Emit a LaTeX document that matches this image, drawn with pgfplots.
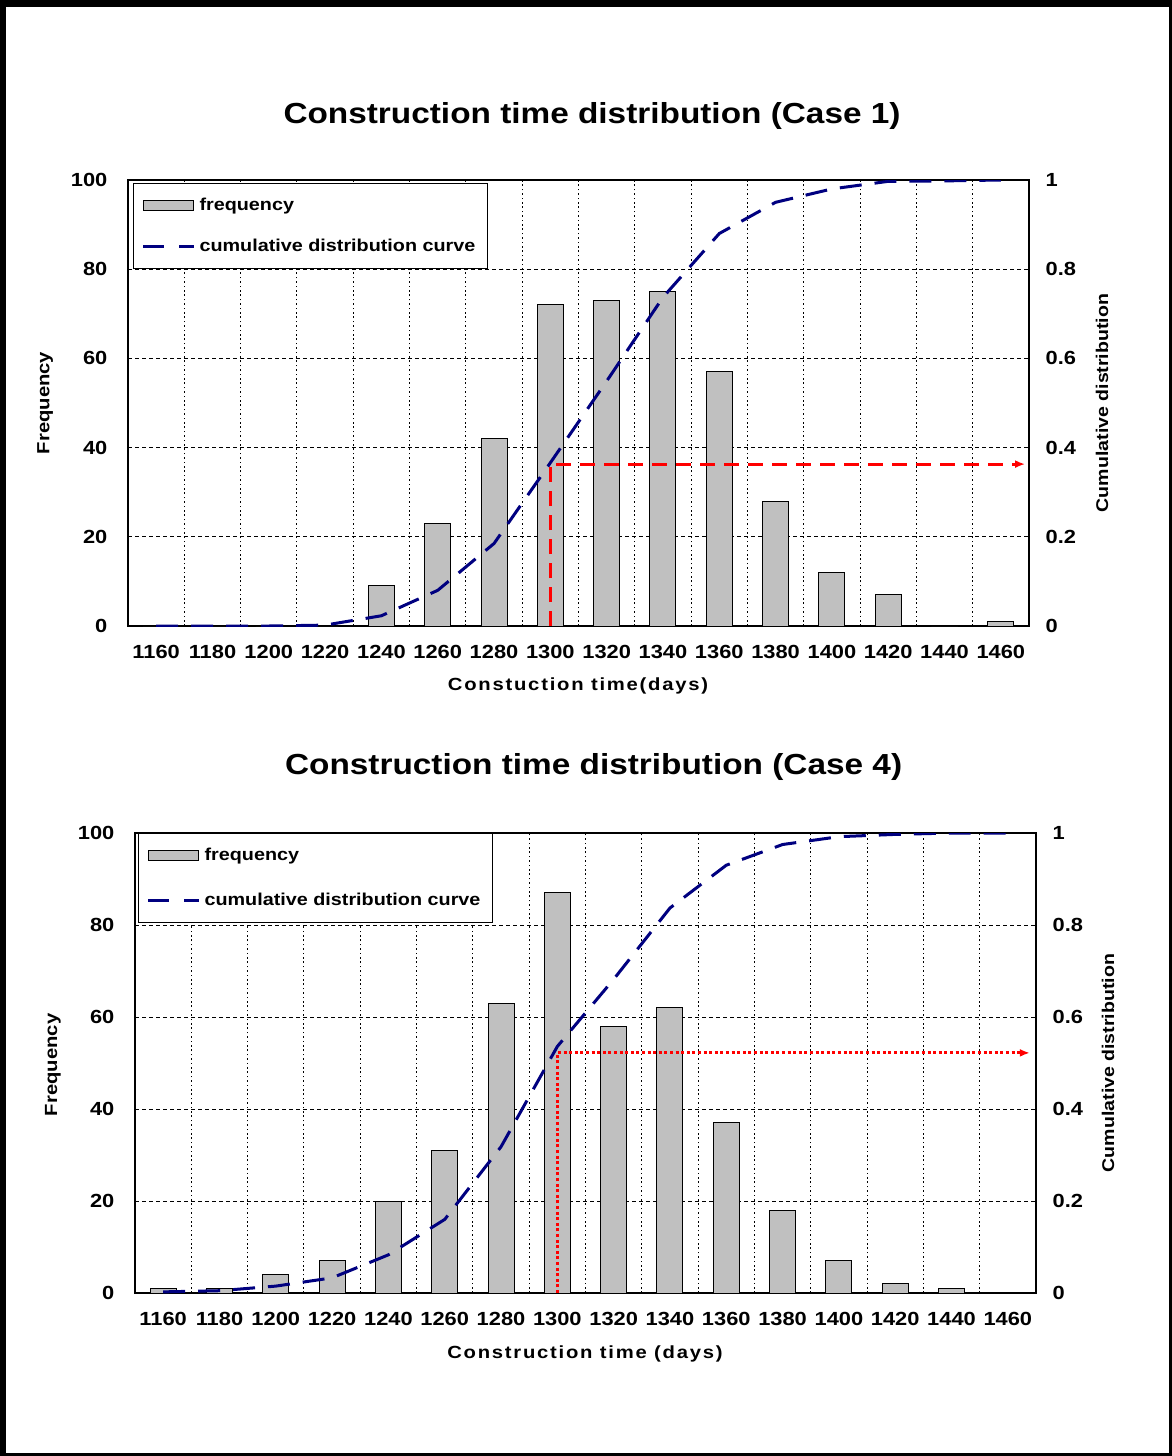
\documentclass[border=0pt]{standalone}
\usepackage{pgfplots}
\pgfplotsset{compat=1.18}
\usetikzlibrary{arrows.meta}
\usepackage{fontspec}
\setmainfont{Liberation Sans}[FakeStretch=1.15]
\newfontfamily\lblfont{Liberation Sans}[FakeStretch=1.15, LetterSpace=10]
\definecolor{barGray}{RGB}{192,192,192}
\definecolor{navyc}{RGB}{0,0,128}

\pgfplotstableread{
idx freq
0 0
1 0
2 0
3 0
4 9
5 23
6 42
7 72
8 73
9 75
10 57
11 28
12 12
13 7
14 0
15 1
}\freqA
\pgfplotstableread{
idx cum
0 0
1 0
2 0
3 0.002
4 0.023
5 0.080
6 0.185
7 0.366
8 0.549
9 0.737
10 0.880
11 0.950
12 0.980
13 0.997
14 0.998
15 1.0
}\cumA
\pgfplotstableread{
idx freq
0 1
1 1
2 4
3 7
4 20
5 31
6 63
7 87
8 58
9 62
10 37
11 18
12 7
13 2
14 1
15 0
}\freqB
\pgfplotstableread{
idx cum
0 0.0025
1 0.005
2 0.015
3 0.033
4 0.083
5 0.160
6 0.318
7 0.536
8 0.682
9 0.837
10 0.930
11 0.975
12 0.992
13 0.997
14 1.0
15 1.0
}\cumB

\pgfplotsset{
  leftax/.style={
    scale only axis, anchor=south west,
    xmin=-0.5, xmax=15.5, ymin=0, ymax=100,
    xtick={0,...,15},
    xticklabels={1160,1180,1200,1220,1240,1260,1280,1300,1320,1340,1360,1380,1400,1420,1440,1460},
    minor xtick={0.5,1.5,2.5,3.5,4.5,5.5,6.5,7.5,8.5,9.5,10.5,11.5,12.5,13.5,14.5},
    ytick={0,20,40,60,80,100},
    xmajorgrids=false, xminorgrids=true, ymajorgrids=true,
    minor grid style={black, line width=0.5pt, dash pattern=on 0.8pt off 1.4pt},
    major grid style={black, line width=0.5pt, dash pattern=on 2.2pt off 1.3pt},
    axis line style={black, line width=0.7pt},
    major tick length=0pt, minor tick length=0pt,
    tick label style={font=\fontsize{9.5}{10}\selectfont\bfseries},
    /pgf/number format/assume math mode=true,
    xticklabel style={yshift=-6pt},
    yticklabel style={xshift=-6.8pt},
    ybar, bar width=13pt,
    label style={font=\fontsize{8.8}{10}\selectfont\bfseries},
    title style={font=\fontsize{14.5}{16}\selectfont\bfseries, anchor=center},
  },
  rightax/.style={
    scale only axis, anchor=south west,
    xmin=-0.5, xmax=15.5, ymin=0, ymax=1,
    axis x line=none, axis y line*=right,
    ytick={0,0.2,0.4,0.6,0.8,1},
    axis line style={black, line width=0.7pt},
    major tick length=0pt,
    tick label style={font=\fontsize{9.5}{10}\selectfont\bfseries},
    /pgf/number format/assume math mode=true,
    yticklabel style={xshift=4.8pt},
    label style={font=\fontsize{8.5}{10}\selectfont\bfseries},
    legend cell align=left,
  },
  cumline/.style={navyc, line width=1.5pt, dash pattern=on 11pt off 6.5pt,
    legend image code/.code={\draw[##1, dash pattern=on 10.5pt off 7.5pt] (0pt,0pt) -- (25.5pt,0pt);}},
}

\begin{document}
\begin{tikzpicture}
\useasboundingbox (0pt,0pt) rectangle (586pt,-728pt);
\fill[white] (0pt,0pt) rectangle (586pt,-728pt);

% ---------------- Case 1 ----------------
\begin{axis}[leftax,
  at={(64pt,-313pt)}, width=450.5pt, height=223pt,
  title={Construction time distribution (Case 1)},
  title style={at={(axis description cs:0.515,1.116)}},
  xlabel={\lblfont Constuction time(days)},
  xlabel style={at={(axis description cs:0.4995,-0.135)}, anchor=center},
  ylabel={Frequency},
  ylabel style={at={(axis description cs:-0.092,0.5)}, anchor=center},
]
\addplot[fill=barGray, draw=black, line width=0.5pt] table[x=idx, y=freq] {\freqA};
\end{axis}
\begin{axis}[rightax,
  at={(64pt,-313pt)}, width=450.5pt, height=223pt,
  ylabel={Cumulative distribution},
  ylabel style={at={(axis description cs:1.081,0.5)}, anchor=center},
  legend style={at={(axis description cs:0.0055,0.993)}, anchor=north west,
    draw=black, line width=0.6pt, fill=white,
    font=\fontsize{8.6}{9}\selectfont\bfseries,
    inner xsep=4pt, inner ysep=5pt, row sep=9pt},
]
\addlegendimage{legend image code/.code={\draw[fill=barGray, draw=black, line width=0.5pt] (0pt,-2.5pt) rectangle (25pt,2.5pt);}}
\addlegendentry{frequency}
\addplot[cumline] table[x=idx, y=cum] {\cumA};
\addlegendentry{cumulative distribution curve}
\addplot[forget plot, red, line width=1.5pt, dash pattern=on 7.5pt off 4.5pt, -{Latex[length=5pt, width=4pt]}]
  coordinates {(7,0) (7,0.363) (15.43,0.363)};
\end{axis}

% ---------------- Case 4 ----------------
\begin{axis}[leftax,
  at={(67.5pt,-646.5pt)}, width=450.5pt, height=230pt,
  title={Construction time distribution (Case 4)},
  title style={at={(axis description cs:0.509,1.117)}},
  xlabel={\lblfont Construction time (days)},
  xlabel style={at={(axis description cs:0.4994,-0.132)}, anchor=center},
  ylabel={Frequency},
  ylabel style={at={(axis description cs:-0.091,0.496)}, anchor=center},
]
\addplot[fill=barGray, draw=black, line width=0.5pt] table[x=idx, y=freq] {\freqB};
\end{axis}
\begin{axis}[rightax,
  at={(67.5pt,-646.5pt)}, width=450.5pt, height=230pt,
  ylabel={Cumulative distribution},
  ylabel style={at={(axis description cs:1.080,0.5)}, anchor=center},
  legend style={at={(axis description cs:0.0033,1.0)}, anchor=north west,
    draw=black, line width=0.6pt, fill=white,
    font=\fontsize{8.6}{9}\selectfont\bfseries,
    inner xsep=4pt, inner ysep=5pt, row sep=11pt},
]
\addlegendimage{legend image code/.code={\draw[fill=barGray, draw=black, line width=0.5pt] (0pt,-2.5pt) rectangle (25pt,2.5pt);}}
\addlegendentry{frequency}
\addplot[cumline] table[x=idx, y=cum] {\cumB};
\addlegendentry{cumulative distribution curve}
\addplot[forget plot, red, line width=1.6pt, dash pattern=on 1.5pt off 1.3pt, -{Latex[length=5pt, width=4pt]}]
  coordinates {(7,0) (7,0.522) (15.39,0.522)};
\end{axis}

% outer frame
\fill[black] (0pt,0pt) rectangle (586pt,-3.5pt);
\fill[black] (0pt,0pt) rectangle (3pt,-728pt);
\fill[black] (584.7pt,0pt) rectangle (586pt,-728pt);
\fill[black] (0pt,-726.3pt) rectangle (586pt,-728pt);
\end{tikzpicture}
\end{document}
